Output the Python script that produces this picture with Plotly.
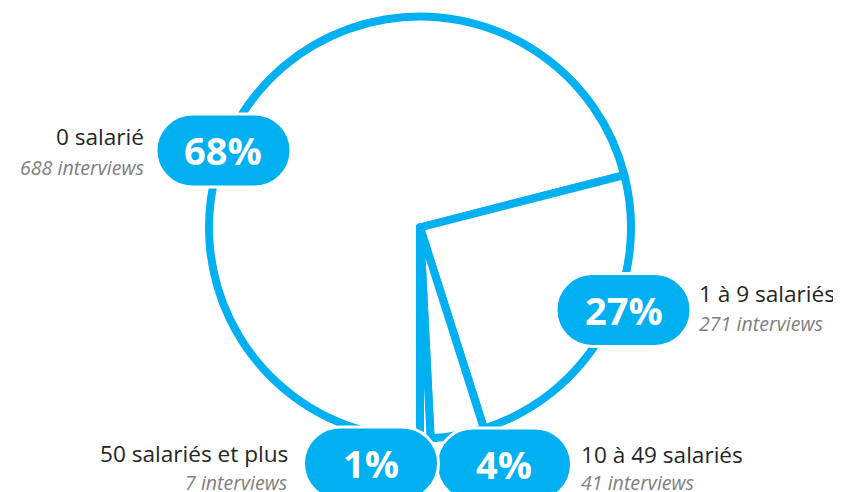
import plotly.graph_objects as go

# ---- data ----
categories = ["0 salarié", "1 à 9 salariés", "10 à 49 salariés", "50 salariés et plus"]
pct_labels = ["68%", "27%", "4%", "1%"]
interviews = [688, 271, 41, 7]
# slice sizes as they are drawn in the reference (measured angles)
slice_shares = [71.0, 24.1, 4.1, 0.8]

# the page body has an 8px margin: the figure is placed at (8, 8) of the window
OFF = 8
WIN_W, WIN_H = 841, 492
W, H = WIN_W - OFF, WIN_H - OFF
BLUE = "#00B0F0"
FONT = "Open Sans"


def pp(x, y):
    """window pixel -> paper coordinates"""
    return (x - OFF) / W, 1 - (y - OFF) / H


def pill_path(cx, cy, w=135, h=73):
    r = h / 2
    k = 0.5523 * r
    x0, x1 = cx - w / 2, cx + w / 2
    y0, y1 = cy - h / 2, cy + h / 2
    segs = [
        ("M", [(x0 + r, y0)]),
        ("L", [(x1 - r, y0)]),
        ("C", [(x1 - r + k, y0), (x1, cy - k), (x1, cy)]),
        ("C", [(x1, cy + k), (x1 - r + k, y1), (x1 - r, y1)]),
        ("L", [(x0 + r, y1)]),
        ("C", [(x0 + r - k, y1), (x0, cy + k), (x0, cy)]),
        ("C", [(x0, cy - k), (x0 + r - k, y0), (x0 + r, y0)]),
    ]
    out = []
    for cmd, pts in segs:
        coords = " ".join("%.5f,%.5f" % pp(x, y) for x, y in pts)
        out.append(cmd + " " + coords)
    return " ".join(out) + " Z"


dx0, dy1 = pp(209, 16.5)
dx1, dy0 = pp(631, 438.5)

fig = go.Figure(
    go.Pie(
        values=slice_shares,
        labels=categories,
        sort=False,
        direction="clockwise",
        rotation=180,
        marker=dict(colors=["white"] * len(categories), line=dict(color=BLUE, width=8)),
        textinfo="none",
        hoverinfo="label",
        domain=dict(x=[dx0, dx1], y=[dy0, dy1]),
        showlegend=False,
    )
)

# layout of each label block: pill centre, text anchor x, side, text centre y
layout_spec = [
    dict(cx=223.5, cy=150.5, tx=146, side="right", ty=(136.5, 167.5)),
    dict(cx=623.5, cy=310, tx=697, side="left", ty=(293, 323)),
    dict(cx=504, cy=464.5, tx=579, side="left", ty=(454, 482.5)),
    dict(cx=371, cy=463.5, tx=290, side="right", ty=(453, 482.5)),
]

shapes = []
annotations = []
for cat, pct, n, spec in zip(categories, pct_labels, interviews, layout_spec):
    shapes.append(
        dict(
            type="path",
            xref="paper",
            yref="paper",
            path=pill_path(spec["cx"], spec["cy"]),
            fillcolor=BLUE,
            line=dict(color="white", width=3),
            layer="above",
        )
    )
    x, y = pp(spec["cx"], spec["cy"] - 0.5)
    annotations.append(
        dict(
            x=x, y=y, xref="paper", yref="paper", text=pct, showarrow=False,
            xanchor="center", yanchor="middle",
            font=dict(family=FONT, size=38, color="white", weight="bold"),
        )
    )
    anchor = spec["side"]
    x1, y1 = pp(spec["tx"], spec["ty"][0])
    annotations.append(
        dict(
            x=x1, y=y1, xref="paper", yref="paper", text=cat, showarrow=False,
            xanchor=anchor, yanchor="middle",
            font=dict(family=FONT, size=22.6, color="#262626"),
        )
    )
    x2, y2 = pp(spec["tx"], spec["ty"][1])
    annotations.append(
        dict(
            x=x2, y=y2, xref="paper", yref="paper",
            text="<i>%d interviews</i>" % n, showarrow=False,
            xanchor=anchor, yanchor="middle",
            font=dict(family=FONT, size=19.6, color="#808080"),
        )
    )

fig.update_layout(
    width=W,
    height=H,
    margin=dict(l=0, r=0, t=0, b=0),
    paper_bgcolor="white",
    plot_bgcolor="white",
    shapes=shapes,
    annotations=annotations,
    showlegend=False,
)

fig.write_html("out.html")
